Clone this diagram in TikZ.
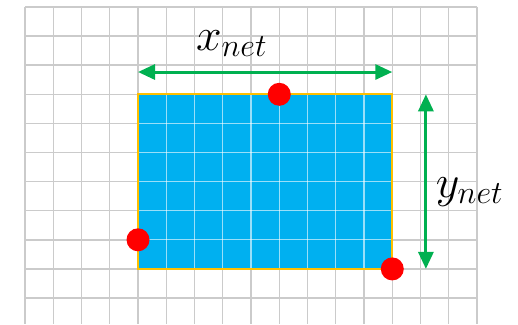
\RequirePackage{fix-cm}
\documentclass[tikz,border=0pt]{standalone}
\usepackage{amsmath, amssymb}
\usepackage{tikz}
\usetikzlibrary{positioning, arrows.meta, calc}

\definecolor{netblue}{HTML}{00B0F0}
\definecolor{netgreen}{HTML}{00B050}
\definecolor{netorange}{HTML}{FFC000}
\definecolor{gridgray}{HTML}{CBCBCB}

\begin{document}
\begin{tikzpicture}[x=28.25pt, y=-29.1pt, >={Triangle[length=17pt, width=15pt]},
    gridline/.style={draw=gridgray, line width=1.4pt},
    innerline/.style={draw=white, opacity=0.6, line width=1.3pt},
    netbox/.style={fill=netblue, minimum width=254.25pt, minimum height=174.6pt, inner sep=0pt},
    pin/.style={circle, fill=red, minimum size=23pt, inner sep=0pt},
    span/.style={<->, draw=netgreen, line width=3pt},
    dimlabel/.style={font=\fontsize{46}{46}\selectfont, inner sep=0pt, anchor=base}]
      \useasboundingbox (-0.885,-0.2405) rectangle (17.45,10.893);

      % background grid
      \foreach \i in {0,...,16}
        \draw[gridline] (\i,0) -- (\i,10.893);
      \foreach \j in {0,...,10}
        \draw[gridline] (0,\j) -- (16,\j);

      % the net
      \node[netbox] (net) at (8.5,6) {};
      \foreach \i in {5,...,12}
        \draw[innerline] (\i,3) -- (\i,9);
      \foreach \j in {4,...,8}
        \draw[innerline] (4,\j) -- (13,\j);
      \draw[netorange, line width=2pt] (net.north west) rectangle (net.south east);

      % pins
      \node[pin] (p1) at (9,3) {};
      \node[pin] (p2) at (4,8) {};
      \node[pin] (p3) at (13,9) {};

      % bounding box sizes
      \coordinate (xa) at (4,2.234);
      \coordinate (xb) at (13,2.234);
      \coordinate (ya) at (14.19,3);
      \coordinate (yb) at (14.19,9);
      \draw[span] (xa) -- (xb);
      \draw[span] (ya) -- (yb);

      \node[dimlabel] (xlab) at (7.31,1.48) {$x_{net}$};
      \node[dimlabel] (ylab) at (15.73,6.53) {$y_{net}$};
    \end{tikzpicture}
\end{document}
